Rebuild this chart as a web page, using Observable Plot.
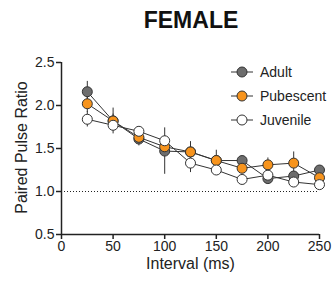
<!DOCTYPE html>
<html><head><meta charset="utf-8">
<script src="https://cdn.jsdelivr.net/npm/d3@7"></script>
<script src="https://cdn.jsdelivr.net/npm/@observablehq/plot@0.6"></script>
<style>
body{margin:0;background:#fff;font-family:"Liberation Sans",Arial,sans-serif;}
#wrap{position:relative;width:334px;height:284px;}
#title{height:40px;line-height:40px;text-align:center;padding-left:48px;box-sizing:border-box;font-weight:bold;font-size:23px;color:#111;}
#legend{position:absolute;left:230px;top:60px;font-size:14px;color:#222;}
#legend .row{height:24px;display:flex;align-items:center;}
#legend svg{margin-right:6px;}
</style></head>
<body><div id="wrap"><div id="title">FEMALE</div><div id="chart"></div><div id="legend"></div></div>
<script>
const intervals = [25, 50, 75, 100, 125, 150, 175, 200, 225, 250];
const groups = ["Adult", "Pubescent", "Juvenile"];
const colors = ["#6d6d6d", "#f7941d", "#ffffff"];
const adult = [2.16, 1.82, 1.61, 1.47, 1.46, 1.36, 1.36, 1.15, 1.18, 1.25];
const adultErr = [0.12, 0.15, 0.06, 0.27, 0.08, 0.06, 0.05, 0.06, 0.05, 0.05];
const pubescent = [2.02, 1.82, 1.63, 1.52, 1.46, 1.36, 1.27, 1.31, 1.33, 1.16];
const pubescentErr = [0.10, 0.08, 0.10, 0.08, 0.12, 0.12, 0.06, 0.08, 0.13, 0.06];
const juvenile = [1.84, 1.77, 1.70, 1.59, 1.33, 1.25, 1.14, 1.19, 1.11, 1.08];
const juvenileErr = [0.09, 0.06, 0.05, 0.06, 0.11, 0.05, 0.04, 0.06, 0.05, 0.04];
const xTicks = [0, 50, 100, 150, 200, 250];
const yTicks = [0.5, 1.0, 1.5, 2.0, 2.5];
const baseline = 1.0;

const series = [adult, pubescent, juvenile];
const errs = [adultErr, pubescentErr, juvenileErr];
const data = [];
groups.forEach((g, i) => intervals.forEach((x, j) => data.push({group: g, x, v: series[i][j], e: errs[i][j]})));

const chart = Plot.plot({
  width: 334, height: 244,
  marginTop: 22, marginBottom: 50, marginLeft: 61, marginRight: 15,
  style: {fontFamily: "Liberation Sans, Arial, sans-serif", fontSize: "14px", color: "#222", background: "#fff"},
  x: {domain: [0, 250]},
  y: {domain: [0.5, 2.5]},
  color: {domain: groups, range: colors},
  marks: [
    Plot.axisX({ticks: xTicks, tickSize: 5, tickPadding: 2, label: null, stroke: "#222", strokeWidth: 1.5, fontSize: 14}),
    Plot.axisY({ticks: yTicks, tickSize: 5, tickPadding: 2, label: null, tickFormat: d3.format(".1f"), stroke: "#222", strokeWidth: 1.5, fontSize: 14}),
    Plot.ruleX([0], {stroke: "#222", strokeWidth: 1.5}),
    Plot.ruleY([0.5], {stroke: "#222", strokeWidth: 1.5}),
    Plot.ruleY([baseline], {x1: 0, x2: 250, stroke: "#222", strokeWidth: 1, strokeDasharray: "1,2"}),
    Plot.ruleX(data, {x: "x", y1: d => d.v - d.e, y2: d => d.v + d.e, stroke: "#333", strokeWidth: 1}),
    Plot.line(data, {x: "x", y: "v", z: "group", stroke: "#333", strokeWidth: 1}),
    Plot.dot(data, {x: "x", y: "v", r: 5, fill: "group", stroke: "#333", strokeWidth: 1}),
    Plot.text(["Interval (ms)"], {frameAnchor: "bottom", dy: 34, fontSize: 16, fill: "#222", textAnchor: "middle"}),
    Plot.text(["Paired Pulse Ratio"], {frameAnchor: "left", dx: -40, dy: -1, rotate: -90, textAnchor: "middle", fontSize: 16, fill: "#222"})
  ]
});
document.getElementById("chart").appendChild(chart);

const legend = document.getElementById("legend");
groups.forEach((g, i) => {
  const row = document.createElement("div");
  row.className = "row";
  row.innerHTML = `<svg width="24" height="14"><line x1="1" x2="23" y1="7" y2="7" stroke="#333" stroke-width="1"/><circle cx="12" cy="7" r="5" fill="${colors[i]}" stroke="#333" stroke-width="1"/></svg><span>${g}</span>`;
  legend.appendChild(row);
});
</script></body></html>
